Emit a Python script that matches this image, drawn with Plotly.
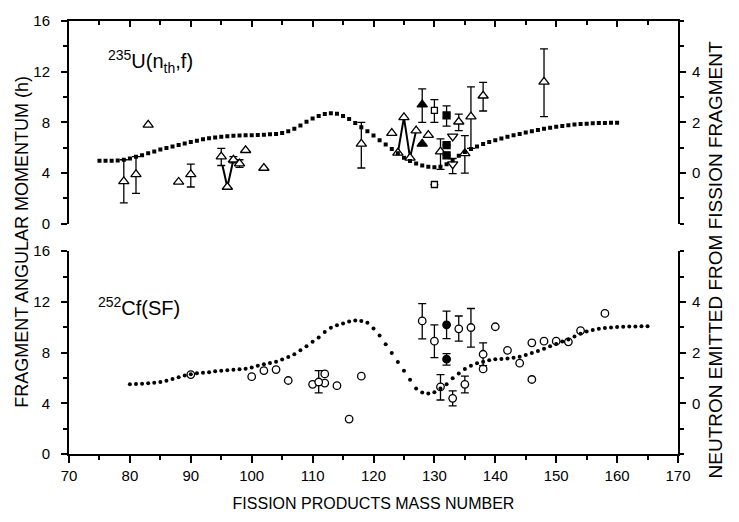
import plotly.graph_objects as go

# ---------------- data ----------------
# Dotted curves: neutrons emitted per fragment (right axes, range -2..6)
u_curve_A = list(range(75, 161))
u_curve_nu = [0.49, 0.49, 0.49, 0.50, 0.53, 0.58, 0.64, 0.70, 0.78, 0.85,
              0.93, 0.99, 1.05, 1.11, 1.17, 1.23, 1.28, 1.33, 1.37, 1.40,
              1.43, 1.45, 1.47, 1.48, 1.49, 1.49, 1.50, 1.51, 1.53, 1.54,
              1.58, 1.65, 1.75, 1.88, 2.03, 2.15, 2.25, 2.33, 2.36, 2.34,
              2.25, 2.13, 1.98, 1.81, 1.65, 1.48, 1.30, 1.13, 0.95, 0.78,
              0.60, 0.48, 0.38, 0.30, 0.25, 0.23, 0.25, 0.35, 0.50, 0.68,
              0.83, 0.95, 1.05, 1.15, 1.23, 1.30, 1.36, 1.43, 1.49, 1.54,
              1.60, 1.65, 1.70, 1.75, 1.79, 1.83, 1.86, 1.89, 1.92, 1.94,
              1.95, 1.97, 1.98, 1.98, 1.99, 1.99]

cf_curve_A = list(range(80, 166))
cf_curve_nu = [0.75, 0.76, 0.77, 0.79, 0.81, 0.84, 0.89, 0.96, 1.03, 1.10,
               1.15, 1.19, 1.21, 1.23, 1.26, 1.28, 1.30, 1.32, 1.34, 1.36,
               1.41, 1.48, 1.54, 1.59, 1.64, 1.73, 1.83, 1.94, 2.09, 2.25,
               2.43, 2.60, 2.81, 2.98, 3.08, 3.15, 3.23, 3.27, 3.25, 3.18,
               2.95, 2.68, 2.33, 1.98, 1.63, 1.28, 0.93, 0.58, 0.43, 0.39,
               0.44, 0.58, 0.75, 0.99, 1.18, 1.35, 1.48, 1.58, 1.64, 1.70,
               1.74, 1.75, 1.77, 1.80, 1.84, 1.91, 1.98, 2.06, 2.15, 2.25,
               2.34, 2.44, 2.52, 2.64, 2.74, 2.83, 2.89, 2.94, 2.97, 2.99,
               3.01, 3.02, 3.03, 3.03, 3.04, 3.04]

# 235U(nth,f): angular momentum (left axis)
u_tri_A = [83, 88, 96, 99, 102, 123, 124, 125, 126, 127, 129]
u_tri_J = [7.8, 3.3, 2.9, 5.8, 4.4, 7.15, 5.6, 8.4, 5.2, 7.35, 7.0]
u_tri_err_A = [79, 81, 90, 95, 97, 98, 118, 131, 134, 135, 136, 138, 148]
u_tri_err_J = [3.35, 3.9, 3.9, 5.3, 5.05, 4.75, 6.3, 5.7, 8.05, 5.55, 8.45, 10.1, 11.2]
u_tri_err_up = [1.7, 1.4, 0.8, 0.65, 0.25, 0.3, 1.7, 1.0, 0.6, 1.4, 2.35, 1.05, 2.6]
u_tri_err_dn = [1.7, 1.5, 1.0, 0.7, 0.25, 0.3, 1.9, 1.4, 0.7, 1.55, 2.5, 1.2, 2.75]
u_ftri_A = [128, 128]
u_ftri_J = [9.4, 6.3]
u_ftri_err_up = [1.25, 0]
u_ftri_err_dn = [1.4, 0]
u_sq_A = [130, 130]
u_sq_J = [8.95, 3.1]
u_sq_err_up = [0.85, 0]
u_sq_err_dn = [0.95, 0]
u_fsq_A = [132, 132, 132]
u_fsq_J = [8.55, 6.2, 5.4]
u_fsq_err_up = [0.75, 0, 0]
u_fsq_err_dn = [0.85, 0, 0]
u_dtri_A = [133, 133]
u_dtri_J = [6.9, 4.7]
u_dtri_err_up = [0, 0.45]
u_dtri_err_dn = [0, 0.75]
u_zig1_A = [95.2, 96, 97]
u_zig1_J = [4.6, 2.9, 5.05]
u_zig2_A = [124, 125, 126, 127]
u_zig2_J = [5.6, 8.4, 5.2, 7.35]

# 252Cf(SF)
cf_circ_A = [90, 100, 102, 104, 106, 110, 112, 112, 114, 116, 118, 138, 140,
             142, 144, 146, 146, 148, 150, 152, 154, 158]
cf_circ_J = [6.27, 6.1, 6.58, 6.66, 5.8, 5.5, 6.32, 5.6, 5.39, 2.76, 6.14, 6.71,
             10.04, 8.18, 7.17, 8.77, 5.88, 8.9, 8.9, 8.85, 9.73, 11.09]
cf_circ_err_A = [111, 128, 130, 131, 133, 134, 135, 136, 138]
cf_circ_err_J = [5.68, 10.5, 8.9, 5.29, 4.39, 9.88, 5.5, 9.98, 7.87]
cf_circ_err_up = [0.9, 1.37, 1.29, 0.98, 0.59, 1.01, 0.64, 1.5, 0.9]
cf_circ_err_dn = [0.86, 1.42, 1.29, 1.03, 0.6, 0.98, 0.68, 1.54, 0.9]
cf_fcirc_A = [132, 132]
cf_fcirc_J = [10.19, 7.48]
cf_fcirc_err_up = [1.08, 0.44]
cf_fcirc_err_dn = [1.08, 0.46]

x_ticks = [70, 80, 90, 100, 110, 120, 130, 140, 150, 160, 170]
j_ticks = [0, 4, 8, 12, 16]
nu_ticks = [0, 2, 4]

# ---------------- figure ----------------
FONT = "Arial, Liberation Sans, sans-serif"
BLACK = "#000000"
fig = go.Figure()


def err(up, dn, vis=True):
    return dict(type="data", symmetric=False, array=up, arrayminus=dn,
                color=BLACK, thickness=1.3, width=4, visible=vis)


def pts(xs, ys, sym, xa, ya, fill="white", size=8, e=None):
    fig.add_trace(go.Scatter(
        x=xs, y=ys, mode="markers", xaxis=xa, yaxis=ya,
        marker=dict(symbol=sym, size=size, color=fill,
                    line=dict(color=BLACK, width=1.3)),
        error_y=e if e else dict(visible=False), showlegend=False))


# top panel
fig.add_trace(go.Scatter(x=u_curve_A, y=u_curve_nu, mode="markers", xaxis="x", yaxis="y2",
                         marker=dict(symbol="square", size=4, color=BLACK), showlegend=False))
for zx, zy in ((u_zig1_A, u_zig1_J), (u_zig2_A, u_zig2_J)):
    fig.add_trace(go.Scatter(x=zx, y=zy, mode="lines", xaxis="x", yaxis="y",
                             line=dict(color=BLACK, width=2), showlegend=False))
pts(u_tri_err_A, u_tri_err_J, "triangle-up", "x", "y", size=9, e=err(u_tri_err_up, u_tri_err_dn))
pts(u_tri_A, u_tri_J, "triangle-up", "x", "y", size=9)
pts(u_ftri_A, u_ftri_J, "triangle-up", "x", "y", fill=BLACK, size=9, e=err(u_ftri_err_up, u_ftri_err_dn))
pts(u_sq_A, u_sq_J, "square", "x", "y", size=6, e=err(u_sq_err_up, u_sq_err_dn))
pts(u_fsq_A, u_fsq_J, "square", "x", "y", fill=BLACK, size=7, e=err(u_fsq_err_up, u_fsq_err_dn))
pts(u_dtri_A, u_dtri_J, "triangle-down", "x", "y", size=9, e=err(u_dtri_err_up, u_dtri_err_dn))

# bottom panel
fig.add_trace(go.Scatter(x=cf_curve_A, y=cf_curve_nu, mode="markers", xaxis="x2", yaxis="y4",
                         marker=dict(symbol="circle", size=4, color=BLACK), showlegend=False))
pts(cf_circ_A, cf_circ_J, "circle", "x2", "y3", size=7.5)
pts(cf_circ_err_A, cf_circ_err_J, "circle", "x2", "y3", size=7.5,
    e=err(cf_circ_err_up, cf_circ_err_dn))
pts(cf_fcirc_A, cf_fcirc_J, "circle", "x2", "y3", fill=BLACK, size=7.5,
    e=err(cf_fcirc_err_up, cf_fcirc_err_dn))

TOP = [0.5317, 1.0]
BOT = [0.0, 0.4683]
tickfont = dict(family=FONT, size=15, color=BLACK)

xcommon = dict(range=[70, 170], showgrid=False, zeroline=False, showline=True,
               linecolor=BLACK, linewidth=2, tickvals=x_ticks, tickwidth=1.5,
               tickcolor=BLACK, tickfont=tickfont)
ycommon = dict(ticks="outside", ticklen=6, tickwidth=1.5, tickcolor=BLACK, showline=True,
               linecolor=BLACK, linewidth=2, showgrid=False, zeroline=False,
               tickfont=tickfont)
fig.update_layout(
    width=739, height=522,
    margin=dict(l=69, r=61, t=13, b=67),
    paper_bgcolor="white", plot_bgcolor="white",
    xaxis=dict(xcommon, domain=[0, 1], anchor="y", side="top", ticks="inside",
               ticklen=6, showticklabels=False,
               minor=dict(dtick=5, ticklen=4, tickwidth=1.5, tickcolor=BLACK, ticks="inside")),
    xaxis2=dict(xcommon, domain=[0, 1], anchor="y3", side="bottom", ticks="outside",
                ticklen=7, showticklabels=True,
                minor=dict(dtick=5, ticklen=4, tickwidth=1.5, tickcolor=BLACK, ticks="outside"),
                title=dict(text="FISSION PRODUCTS MASS NUMBER",
                           font=dict(family=FONT, size=16, color=BLACK), standoff=15)),
    yaxis=dict(ycommon, domain=TOP, anchor="x", range=[0, 16], tickvals=j_ticks,
               ticklabelstandoff=8,
               minor=dict(dtick=2, ticklen=4, tickwidth=1.5, tickcolor=BLACK, ticks="outside")),
    yaxis2=dict(ycommon, domain=TOP, anchor="x", overlaying="y", side="right", range=[-2, 6],
                tickvals=nu_ticks, ticklabelstandoff=3,
                minor=dict(dtick=1, tick0=1, ticklen=4, tickwidth=1.5, tickcolor=BLACK, ticks="outside")),
    yaxis3=dict(ycommon, domain=BOT, anchor="x2", range=[0, 16], tickvals=j_ticks,
                ticklabelstandoff=8,
                minor=dict(dtick=2, ticklen=4, tickwidth=1.5, tickcolor=BLACK, ticks="outside")),
    yaxis4=dict(ycommon, domain=BOT, anchor="x2", overlaying="y3", side="right", range=[-2, 6],
                tickvals=nu_ticks, ticklabelstandoff=3,
                minor=dict(dtick=1, tick0=1, ticklen=4, tickwidth=1.5, tickcolor=BLACK, ticks="outside")),
)

fig.add_annotation(text="<sup>235</sup>U(n<sub>th</sub>,f)", xref="x", yref="y",
                   x=76.0, y=12.8, xanchor="left", yanchor="middle", showarrow=False,
                   font=dict(family=FONT, size=20, color=BLACK))
fig.add_annotation(text="<sup>252</sup>Cf(SF)", xref="x2", yref="y3",
                   x=74.4, y=11.6, xanchor="left", yanchor="middle", showarrow=False,
                   font=dict(family=FONT, size=20, color=BLACK))
fig.add_annotation(text="FRAGMENT ANGULAR MOMENTUM (h)", xref="paper", yref="paper",
                   x=-0.097, y=0.49, textangle=-90, showarrow=False,
                   font=dict(family=FONT, size=18, color=BLACK))
fig.add_annotation(text="NEUTRON EMITTED FROM FISSION FRAGMENT", xref="paper", yref="paper",
                   x=1.082, y=0.448, textangle=-90, showarrow=False,
                   font=dict(family=FONT, size=19, color=BLACK))

fig.write_html("out.html", config={"displayModeBar": False},
               post_script="document.body.style.margin='0px';")
